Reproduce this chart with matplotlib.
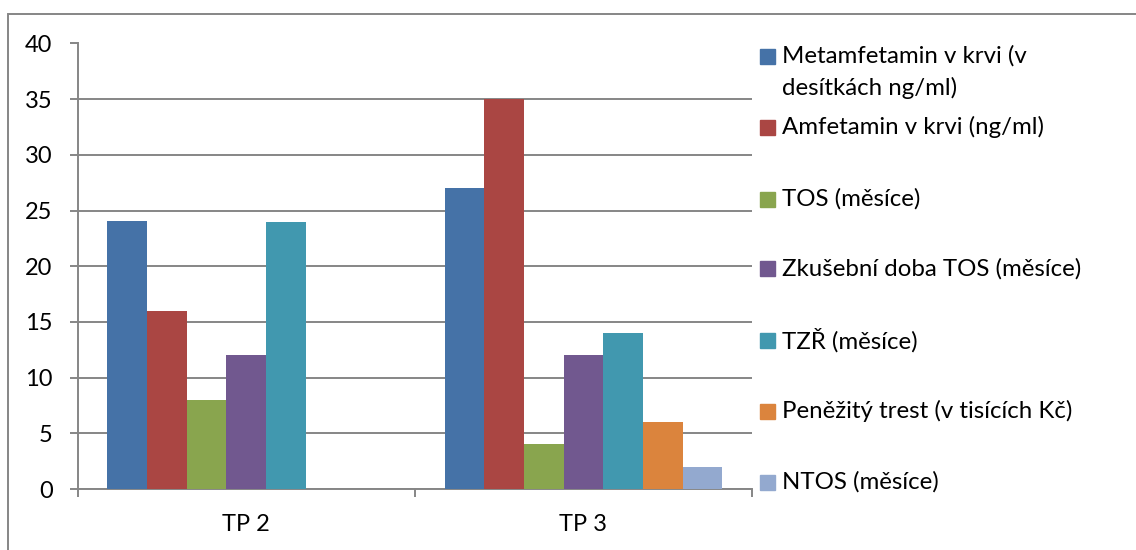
import numpy as np
import matplotlib.pyplot as plt
from matplotlib.patches import Rectangle

plt.rcParams['font.family'] = ['Lato', 'DejaVu Sans']

categories = ["TP 2", "TP 3"]
series = ["Metamfetamin v krvi (v\ndesítkách ng/ml)",
          "Amfetamin v krvi (ng/ml)",
          "TOS (měsíce)",
          "Zkušební doba TOS (měsíce)",
          "TZŘ (měsíce)",
          "Peněžitý trest (v tisících Kč)",
          "NTOS (měsíce)"]
values = [[24.1, 27],
          [16, 35],
          [8, 4],
          [12, 12],
          [24, 14],
          [0, 6],
          [0, 2]]
colors = ["#4572A7", "#AA4643", "#89A54E", "#71588F", "#4198AF", "#DB843D", "#93A9CF"]

W, H = 1136, 550
fig = plt.figure(figsize=(W / 100, H / 100), dpi=100)
ax = fig.add_axes([77.5 / W, 1 - 489 / H, (752 - 77.5) / W, (489 - 43.5) / H])

x = np.arange(len(categories))
n = len(series)
bw = 1 / (n + 1.5)
for i in range(n):
    ax.bar(x + (i - (n - 1) / 2) * bw, values[i], width=bw, color=colors[i],
           edgecolor='none', zorder=3)

ax.set_xlim(-0.5, len(categories) - 0.5)
ax.set_ylim(0, 40)
ax.set_yticks(np.arange(0, 41, 5))
ax.grid(axis='y', color='#868686', linewidth=1.4, zorder=0)
ax.set_axisbelow(True)

for s in ['top', 'right']:
    ax.spines[s].set_visible(False)
for s in ['left', 'bottom']:
    ax.spines[s].set_color('#868686')
    ax.spines[s].set_linewidth(1.4)

ax.set_xticks(x)
ax.set_xticklabels(categories)
ax.set_xticks(np.arange(-0.5, len(categories), 1), minor=True)
ax.tick_params(axis='x', which='major', length=0, pad=18, labelsize=17)
ax.tick_params(axis='x', which='minor', length=6, width=1.4, color='#868686', direction='out')
ax.tick_params(axis='y', length=6, width=1.4, color='#868686', pad=12, labelsize=17)

# legend on the right, Excel-like spacing
leg_y = [56, 127, 199, 269, 340, 411, 482]
for i, lab in enumerate(series):
    yc = 1 - leg_y[i] / H
    fig.patches.append(Rectangle((760 / W, yc - 7.5 / H), 15 / W, 15 / H,
                                 transform=fig.transFigure, color=colors[i]))
    for k, line in enumerate(lab.split("\n")):
        fig.text(782 / W, yc - k * 32 / H, line, va='center', ha='left', fontsize=17.3)

# chart border
fig.patches.append(Rectangle((8 / W, -0.1), 1.2, 1.1 - 14 / H, transform=fig.transFigure,
                             fill=False, edgecolor='#868686', linewidth=1.4))

fig.savefig('out.png', dpi=100)
